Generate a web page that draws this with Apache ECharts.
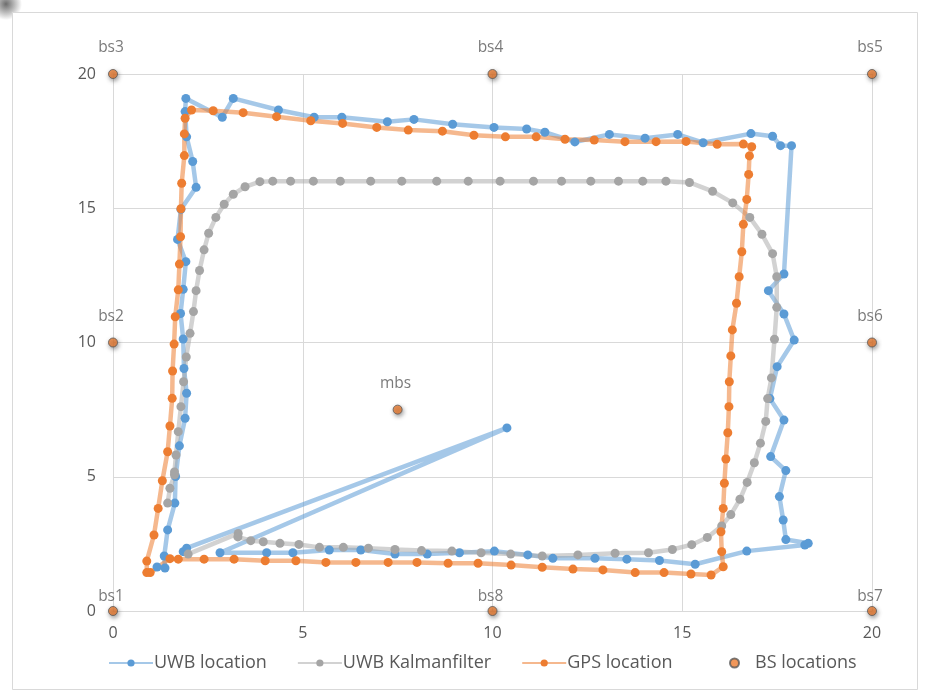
<!DOCTYPE html>
<html>
<head>
<meta charset="utf-8">
<script src="https://cdn.jsdelivr.net/npm/echarts@6/dist/echarts.min.js"></script>
<style>
  html, body { margin: 0; padding: 0; background: #ffffff; }
  #chart { width: 928px; height: 697px; }
</style>
</head>
<body>
<div id="chart"></div>
<script>
// Axis ticks
const xTicks = [0, 5, 10, 15, 20];
const yTicks = [0, 5, 10, 15, 20];

// UWB measured positions
const uwbX = [1.85, 1.94, 10.38, 2.82, 4.05, 4.74, 5.70, 6.53, 7.43, 8.28, 9.13, 10.05, 10.93, 11.59, 12.70, 13.54, 14.40, 15.34, 16.70, 18.23, 18.32, 17.73, 17.66, 17.56, 17.73, 17.33, 17.68, 17.31, 17.50, 17.95, 17.68, 17.27, 17.68, 17.88, 17.59, 17.38, 16.81, 15.55, 14.88, 14.02, 13.08, 12.17, 11.38, 10.90, 10.04, 8.95, 7.93, 7.23, 6.03, 5.30, 4.36, 3.17, 2.88, 1.92, 1.90, 1.94, 2.10, 2.19, 1.79, 1.70, 1.92, 1.85, 1.78, 1.85, 1.87, 1.94, 1.90, 1.75, 1.65, 1.63, 1.44, 1.35, 1.37, 1.16];
const uwbY = [2.21, 2.34, 6.82, 2.17, 2.17, 2.17, 2.27, 2.27, 2.12, 2.12, 2.17, 2.23, 2.09, 1.96, 1.96, 1.93, 1.88, 1.74, 2.23, 2.46, 2.52, 2.66, 3.39, 4.26, 5.23, 5.75, 7.11, 7.91, 9.10, 10.09, 11.06, 11.93, 12.55, 17.33, 17.33, 17.68, 17.78, 17.44, 17.75, 17.61, 17.75, 17.47, 17.83, 17.95, 18.01, 18.13, 18.31, 18.22, 18.39, 18.39, 18.66, 19.09, 18.39, 19.09, 18.60, 17.66, 16.74, 15.78, 14.96, 13.84, 13.01, 11.98, 11.08, 10.13, 9.03, 8.11, 7.18, 6.15, 5.01, 4.02, 3.02, 2.05, 1.60, 1.64];

// Kalman-filtered UWB track
const kalmanX = [1.98, 3.30, 3.29, 3.63, 3.96, 4.40, 4.90, 5.44, 6.07, 6.73, 7.43, 8.13, 8.93, 9.70, 10.48, 11.31, 12.25, 13.23, 14.11, 14.74, 15.25, 15.66, 16.04, 16.28, 16.52, 16.71, 16.90, 17.06, 17.20, 17.25, 17.35, 17.43, 17.49, 17.49, 17.38, 17.10, 16.78, 16.33, 15.80, 15.19, 14.57, 13.96, 13.32, 12.59, 11.82, 11.08, 10.20, 9.36, 8.53, 7.61, 6.79, 5.99, 5.28, 4.68, 4.21, 3.87, 3.48, 3.17, 2.93, 2.71, 2.52, 2.40, 2.28, 2.19, 2.12, 2.03, 1.93, 1.86, 1.79, 1.72, 1.66, 1.62, 1.62, 1.50, 1.44];
const kalmanY = [2.12, 2.89, 2.76, 2.62, 2.58, 2.52, 2.48, 2.37, 2.37, 2.34, 2.29, 2.25, 2.23, 2.17, 2.12, 2.05, 2.09, 2.15, 2.17, 2.29, 2.47, 2.74, 3.17, 3.59, 4.16, 4.79, 5.52, 6.25, 7.06, 7.91, 8.68, 10.12, 11.31, 12.45, 13.31, 14.03, 14.66, 15.20, 15.63, 15.96, 16.01, 16.01, 16.01, 16.01, 16.01, 16.01, 16.01, 16.01, 16.01, 16.01, 16.01, 16.01, 16.01, 16.01, 16.01, 15.99, 15.80, 15.52, 15.15, 14.66, 14.07, 13.45, 12.68, 11.93, 11.15, 10.34, 9.46, 8.54, 7.61, 6.68, 5.81, 5.18, 5.07, 4.57, 4.02];

// GPS positions
const gpsX = [0.98, 1.50, 1.72, 2.40, 3.19, 4.01, 4.82, 5.61, 6.40, 7.25, 8.01, 8.83, 9.62, 10.49, 11.31, 12.12, 12.91, 13.76, 14.52, 15.23, 15.76, 16.08, 16.04, 16.02, 16.08, 16.11, 16.15, 16.20, 16.23, 16.24, 16.28, 16.32, 16.43, 16.50, 16.57, 16.61, 16.70, 16.75, 16.77, 16.83, 16.61, 15.92, 15.10, 14.31, 13.49, 12.68, 11.91, 11.15, 10.34, 9.51, 8.68, 7.78, 6.95, 6.05, 5.21, 4.31, 3.43, 2.64, 2.07, 1.90, 1.88, 1.88, 1.81, 1.79, 1.78, 1.75, 1.72, 1.64, 1.61, 1.57, 1.56, 1.50, 1.44, 1.30, 1.19, 1.08, 0.89, 0.89];
const gpsY = [1.43, 1.95, 1.93, 1.93, 1.93, 1.87, 1.87, 1.81, 1.81, 1.81, 1.81, 1.78, 1.78, 1.71, 1.63, 1.56, 1.53, 1.43, 1.43, 1.38, 1.34, 1.65, 2.21, 2.95, 3.82, 4.76, 5.66, 6.64, 7.61, 8.54, 9.50, 10.47, 11.46, 12.45, 13.38, 14.40, 15.33, 16.26, 16.95, 17.29, 17.39, 17.38, 17.49, 17.48, 17.48, 17.54, 17.57, 17.66, 17.66, 17.72, 17.87, 17.91, 18.01, 18.16, 18.26, 18.41, 18.56, 18.63, 18.66, 18.35, 17.77, 16.96, 15.93, 14.98, 13.94, 12.92, 11.96, 10.96, 9.94, 8.94, 7.92, 6.89, 5.93, 4.85, 3.82, 2.83, 1.86, 1.43];

// Base stations
const bsNames = ['bs1', 'bs2', 'bs3', 'bs4', 'bs5', 'bs6', 'bs7', 'bs8', 'mbs'];
const bsX = [0, 0, 0, 10, 20, 20, 20, 10, 7.5];
const bsY = [0, 10, 20, 20, 20, 10, 0, 0, 7.5];

const zip = (xs, ys) => xs.map((x, i) => [x, ys[i]]);

const FONT = 'Open Sans';
const TEXT = '#595959';

const trackSeries = (name, xs, ys, marker, line) => ({
  name,
  type: 'line',
  data: zip(xs, ys),
  symbol: 'circle',
  symbolSize: 9,
  showSymbol: true,
  smooth: false,
  itemStyle: { color: marker },
  lineStyle: { color: line, width: 4.5 },
  emphasis: { disabled: true },
  animation: false
});

const chart = echarts.init(document.getElementById('chart'), null, { renderer: 'canvas' });

chart.setOption({
  backgroundColor: '#ffffff',
  animation: false,
  textStyle: { fontFamily: FONT },
  graphic: [
    {
      // soft shadow at the frame corner
      type: 'circle',
      shape: { cx: 6, cy: 4, r: 16 },
      style: {
        fill: {
          type: 'radial', x: 0.5, y: 0.5, r: 0.5,
          colorStops: [
            { offset: 0, color: 'rgba(60,60,60,0.75)' },
            { offset: 1, color: 'rgba(60,60,60,0)' }
          ]
        }
      },
      silent: true,
      z: -11
    },
    {
      type: 'rect',
      shape: { x: 12.5, y: 12.5, width: 905, height: 677 },
      style: { fill: '#ffffff', stroke: '#d9d9d9', lineWidth: 1 },
      silent: true,
      z: -10
    }
  ],
  grid: { left: 113, right: 56, top: 74, bottom: 86, containLabel: false },
  xAxis: {
    type: 'value', min: xTicks[0], max: xTicks[xTicks.length - 1], interval: 5,
    axisLine: { show: true, onZero: false, lineStyle: { color: '#d9d9d9', width: 1 } },
    axisTick: { show: false },
    splitLine: { show: true, lineStyle: { color: '#d9d9d9', width: 1 } },
    axisLabel: { color: TEXT, fontSize: 16, fontFamily: FONT, margin: 14 }
  },
  yAxis: {
    type: 'value', min: yTicks[0], max: yTicks[yTicks.length - 1], interval: 5,
    axisLine: { show: true, onZero: false, lineStyle: { color: '#d9d9d9', width: 1 } },
    axisTick: { show: false },
    splitLine: { show: true, lineStyle: { color: '#d9d9d9', width: 1 } },
    axisLabel: { color: TEXT, fontSize: 16, fontFamily: FONT, margin: 17 }
  },
  legend: [
    {
      left: 103, top: 649,
      itemWidth: 44, itemHeight: 9, itemGap: 30,
      textStyle: { color: TEXT, fontSize: 18, fontFamily: FONT, padding: [0, 0, 0, -4] },
      data: ['UWB location', 'UWB Kalmanfilter', 'GPS location']
    },
    {
      left: 724, top: 649,
      itemWidth: 9, itemHeight: 9,
      textStyle: { color: TEXT, fontSize: 18, fontFamily: FONT, padding: [0, 0, 0, 11] },
      data: ['BS locations']
    }
  ],
  series: [
    trackSeries('UWB location', uwbX, uwbY, '#5b9bd5', 'rgba(91,155,213,0.55)'),
    trackSeries('UWB Kalmanfilter', kalmanX, kalmanY, '#a5a5a5', 'rgba(165,165,165,0.5)'),
    trackSeries('GPS location', gpsX, gpsY, '#ed7d31', 'rgba(237,125,49,0.55)'),
    {
      name: 'BS locations',
      type: 'scatter',
      symbol: 'circle',
      symbolSize: 9,
      itemStyle: {
        color: '#ed7d31', borderColor: '#595959', borderWidth: 1,
        shadowBlur: 4, shadowColor: 'rgba(0,0,0,0.45)', shadowOffsetX: 1, shadowOffsetY: 2
      },
      data: bsNames.map((n, i) => ({
        name: n,
        value: [bsX[i], bsY[i]],
        label: { distance: bsY[i] === 0 ? 1 : 13 }
      })),
      label: {
        show: true, position: 'top', formatter: '{b}', offset: [-2, 0],
        color: TEXT, fontSize: 15.5, fontFamily: FONT
      },
      emphasis: { disabled: true },
      z: 5
    }
  ]
});
</script>
</body>
</html>
